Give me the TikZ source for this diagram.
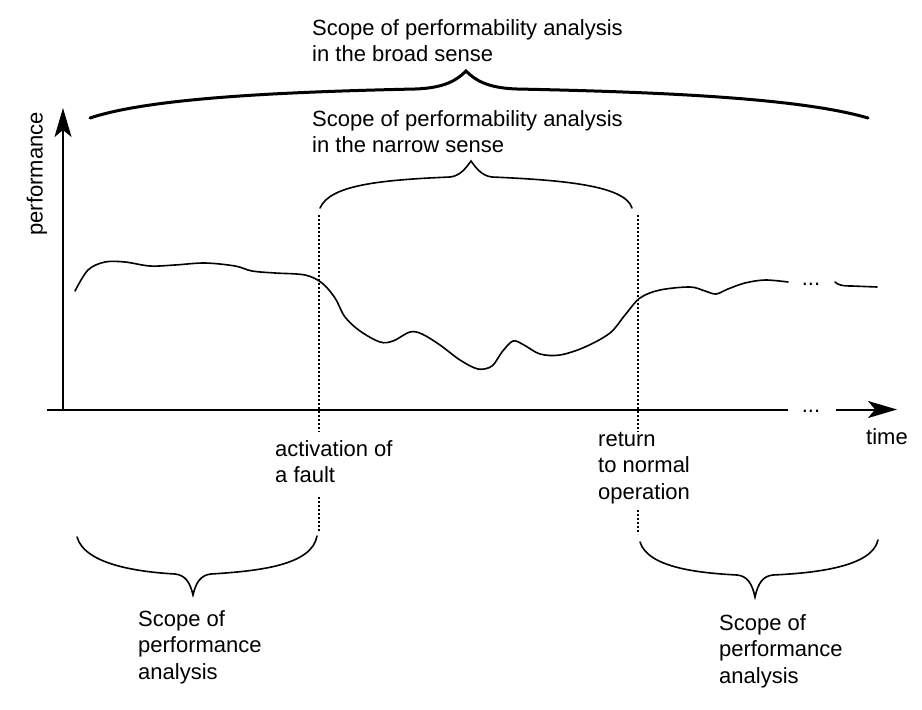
\documentclass[tikz,border=0pt]{standalone}
\usepackage{fontspec}
\setmainfont{Liberation Sans}
\usetikzlibrary{arrows.meta}
\tikzset{
  lbl/.style={font=\fontsize{22}{26.5}\selectfont, inner sep=0pt, align=left, anchor=base west},
  axisline/.style={line width=2pt},
  perfcurve/.style={line width=1.6pt, line cap=round},
  bracethin/.style={line width=1.6pt, line cap=round},
  bracethick/.style={line width=3pt, line cap=round},
  marker/.style={line width=1.6pt, dash pattern=on 1.6pt off 2.4pt},
  headtip/.style={-{Stealth[length=29pt,width=17pt,inset=7pt]}},
  dotsl/.style={font=\fontsize{22}{26}\selectfont, inner sep=0pt, anchor=base}
}
\begin{document}
\begin{tikzpicture}[x=1pt,y=-1pt]
\useasboundingbox (0,0) rectangle (922,710);
% axes
\coordinate (origin) at (63,409.5);
\coordinate (ytop) at (63,108);
\coordinate (xstart) at (47,409.5);
\coordinate (xend) at (788,409.5);
\coordinate (xa) at (836,409.5);
\coordinate (xb) at (897,409.5);
\draw[axisline] (xstart) -- (xend);
\draw[axisline, headtip] (origin) -- (ytop);
\draw[axisline, headtip] (xa) -- (xb);
\node[dotsl] (xdots) at (811,412) {...};
\node[font=\fontsize{22}{26}\selectfont, inner sep=0pt, rotate=90] (ylab) at (37,174) {performance};
\node[lbl] (tlab) at (866,444) {time};
% performance curve
\draw[perfcurve] plot[smooth, tension=0.55] coordinates {
(75,291) (88,270) (105,262) (125,262) (150,266) (175,265) (205,263) (235,266)
(252,271) (275,273) (305,275) (322,283) (335,298) (345,317) (360,331) (380,342)
(393,341) (410,332) (422,334) (440,345) (460,360) (478,369) (492,366) (502,352)
(513,341) (524,345) (540,354) (560,355) (585,347) (610,333) (625,315) (640,298)
(660,290) (690,287) (705,291) (716,294) (728,289) (745,283) (765,280) (788,282)};
\node[dotsl] (cdots) at (811,285) {...};
\coordinate (c2a) at (835,282);
\coordinate (c2b) at (877,287);
\draw[perfcurve] (c2a) .. controls (838,285) and (842,286) .. (852,286) -- (c2b);
% dotted markers
\coordinate (fa) at (319,215); \coordinate (fb) at (319,432);
\coordinate (fc) at (319,497); \coordinate (fd) at (319,531);
\coordinate (ra) at (638,215); \coordinate (rb) at (638,432);
\coordinate (rc) at (638,510); \coordinate (rd) at (638,534);
\draw[marker] (fa) -- (fb);
\draw[marker] (fc) -- (fd);
\draw[marker] (ra) -- (rb);
\draw[marker] (rc) -- (rd);
\node[lbl] (act) at (275,482.5) {activation of\\a fault};
\node[lbl] (ret) at (598,499) {return\\to normal\\operation};
% braces
\draw[bracethick] (90,118) .. controls (150,98) and (280,92) .. (415,89)
  .. controls (445,88) and (457,80) .. (466,71)
  .. controls (475,80) and (487,88) .. (517,89)
  .. controls (660,92) and (800,98) .. (868,118);
\node[lbl] (broad) at (312,61.5) {Scope of performability analysis\\in the broad sense};
\draw[bracethin] (320,208) .. controls (330,185) and (380,180) .. (450,177)
  .. controls (460,176) and (466,168) .. (471,161)
  .. controls (476,168) and (482,176) .. (492,177)
  .. controls (560,180) and (625,185) .. (632,208);
\node[lbl] (narrow) at (312,152.5) {Scope of performability analysis\\in the narrow sense};
\draw[bracethin] (77,537) .. controls (85,565) and (140,572) .. (175,574)
  .. controls (185,575) and (190,582) .. (193,595)
  .. controls (196,582) and (201,575) .. (211,574)
  .. controls (260,571) and (312,565) .. (317,536);
\node[lbl] (perfl) at (138,679) {Scope of\\performance\\analysis};
\draw[bracethin] (640,542) .. controls (648,568) and (700,573) .. (737,575)
  .. controls (747,576) and (752,583) .. (755,597)
  .. controls (758,583) and (763,576) .. (773,575)
  .. controls (815,573) and (872,567) .. (878,540);
\node[lbl] (perfr) at (719,683) {Scope of\\performance\\analysis};
\end{tikzpicture}
\end{document}
